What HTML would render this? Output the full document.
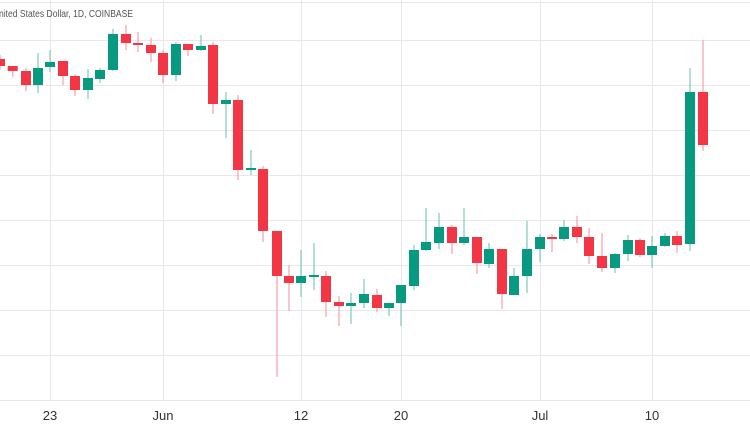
<!DOCTYPE html>
<html><head><meta charset="utf-8"><style>
body{margin:0;background:#fff}
svg{display:block}
text{font-family:"Liberation Sans",sans-serif}
</style></head><body>
<svg width="750" height="430" viewBox="0 0 750 430" xmlns="http://www.w3.org/2000/svg">
<g stroke="#e8e8e8" stroke-width="1">
<line x1="0" y1="2.5" x2="750" y2="2.5"/>
<line x1="0" y1="40.5" x2="750" y2="40.5"/><line x1="0" y1="85.5" x2="750" y2="85.5"/>
<line x1="0" y1="130.5" x2="750" y2="130.5"/><line x1="0" y1="175.5" x2="750" y2="175.5"/>
<line x1="0" y1="220.5" x2="750" y2="220.5"/><line x1="0" y1="265.5" x2="750" y2="265.5"/>
<line x1="0" y1="310.5" x2="750" y2="310.5"/><line x1="0" y1="355.5" x2="750" y2="355.5"/>
<line x1="0" y1="400.5" x2="750" y2="400.5"/>
<line x1="50.5" y1="0" x2="50.5" y2="400"/><line x1="163.5" y1="0" x2="163.5" y2="400"/>
<line x1="301.5" y1="0" x2="301.5" y2="400"/><line x1="401.5" y1="0" x2="401.5" y2="400"/>
<line x1="540.5" y1="0" x2="540.5" y2="400"/><line x1="652.5" y1="0" x2="652.5" y2="400"/>
</g>
<text x="-1" y="17" font-size="10" fill="#555" textLength="134" lengthAdjust="spacingAndGlyphs">nited States Dollar, 1D, COINBASE</text>
<g font-size="13" fill="#333" text-anchor="middle">
<text x="50" y="420">23</text><text x="163" y="420">Jun</text><text x="301" y="420">12</text>
<text x="401" y="420">20</text><text x="540" y="420">Jul</text><text x="652" y="420">10</text>
</g>
<g stroke="#f8a0a8" stroke-width="1.2">
<line x1="0" x2="0" y1="55" y2="70"/><line x1="12.7" x2="12.7" y1="66" y2="77"/>
<line x1="26" x2="26" y1="68" y2="91"/><line x1="63" x2="63" y1="61" y2="85"/>
<line x1="75" x2="75" y1="74" y2="96"/><line x1="126" x2="126" y1="25" y2="50"/>
<line x1="138" x2="138" y1="32" y2="52"/><line x1="151" x2="151" y1="38" y2="62"/>
<line x1="163" x2="163" y1="50" y2="83"/><line x1="188" x2="188" y1="44" y2="56"/>
<line x1="213" x2="213" y1="42" y2="114"/><line x1="238" x2="238" y1="95" y2="180"/>
<line x1="263" x2="263" y1="166" y2="242"/><line x1="277" x2="277" y1="231" y2="377"/>
<line x1="289" x2="289" y1="265" y2="311"/><line x1="326" x2="326" y1="271" y2="317"/>
<line x1="339" x2="339" y1="296" y2="326"/><line x1="377" x2="377" y1="289" y2="312"/>
<line x1="452" x2="452" y1="225" y2="254"/><line x1="477" x2="477" y1="237" y2="274"/>
<line x1="502" x2="502" y1="249" y2="309"/><line x1="552" x2="552" y1="234" y2="252"/>
<line x1="577" x2="577" y1="216" y2="243"/><line x1="589" x2="589" y1="228" y2="264"/>
<line x1="602" x2="602" y1="233" y2="272"/><line x1="640" x2="640" y1="238" y2="257"/>
<line x1="677" x2="677" y1="231" y2="253"/><line x1="703" x2="703" y1="40" y2="151"/>
</g>
<g stroke="#7ccbbd" stroke-width="1.2">
<line x1="38" x2="38" y1="53" y2="93"/><line x1="50" x2="50" y1="50" y2="72"/>
<line x1="88" x2="88" y1="69" y2="99"/><line x1="100" x2="100" y1="68" y2="83"/>
<line x1="113" x2="113" y1="29" y2="71"/><line x1="176" x2="176" y1="42" y2="81"/>
<line x1="201" x2="201" y1="35" y2="51"/><line x1="226" x2="226" y1="92" y2="138"/>
<line x1="251" x2="251" y1="150" y2="175"/><line x1="301" x2="301" y1="250" y2="297"/>
<line x1="314" x2="314" y1="243" y2="290"/><line x1="351" x2="351" y1="293" y2="324"/>
<line x1="364" x2="364" y1="279" y2="308"/><line x1="389" x2="389" y1="303" y2="316"/>
<line x1="401" x2="401" y1="285" y2="326"/><line x1="414" x2="414" y1="245" y2="290"/>
<line x1="426" x2="426" y1="208" y2="251"/><line x1="439" x2="439" y1="213" y2="249"/>
<line x1="464" x2="464" y1="208" y2="245"/><line x1="489" x2="489" y1="243" y2="268"/>
<line x1="514" x2="514" y1="268" y2="295"/><line x1="527" x2="527" y1="221" y2="293"/>
<line x1="540" x2="540" y1="234" y2="262"/><line x1="564" x2="564" y1="220" y2="241"/>
<line x1="615" x2="615" y1="253" y2="273"/><line x1="628" x2="628" y1="235" y2="261"/>
<line x1="652" x2="652" y1="236" y2="268"/><line x1="665" x2="665" y1="233" y2="247"/>
<line x1="690" x2="690" y1="68" y2="251"/>
</g>
<g fill="#f23645">
<rect x="-5" y="59" width="10" height="7"/><rect x="7.7" y="66" width="10" height="5"/>
<rect x="21" y="71" width="10" height="14"/><rect x="58" y="61" width="10" height="15"/>
<rect x="70" y="76" width="10" height="14"/><rect x="121" y="34" width="10" height="9"/>
<rect x="133" y="43" width="10" height="2"/><rect x="146" y="45" width="10" height="8"/>
<rect x="158" y="53" width="10" height="22"/><rect x="183" y="44" width="10" height="6"/>
<rect x="208" y="45" width="10" height="59"/><rect x="233" y="100" width="10" height="70"/>
<rect x="258" y="169" width="10" height="62"/><rect x="272" y="231" width="10" height="45"/>
<rect x="284" y="276" width="10" height="7"/><rect x="321" y="276" width="10" height="26"/>
<rect x="334" y="302" width="10" height="4"/><rect x="372" y="295" width="10" height="13"/>
<rect x="447" y="227" width="10" height="16"/><rect x="472" y="237" width="10" height="26"/>
<rect x="497" y="249" width="10" height="45"/><rect x="547" y="237" width="10" height="2"/>
<rect x="572" y="227" width="10" height="10"/><rect x="584" y="237" width="10" height="19"/>
<rect x="597" y="256" width="10" height="12"/><rect x="635" y="240" width="10" height="15"/>
<rect x="672" y="236" width="10" height="9"/><rect x="698" y="92" width="10" height="53"/>
</g>
<g fill="#089981">
<rect x="33" y="68" width="10" height="17"/><rect x="45" y="62" width="10" height="5"/>
<rect x="83" y="78" width="10" height="12"/><rect x="95" y="70" width="10" height="9"/>
<rect x="108" y="34" width="10" height="36"/><rect x="171" y="44" width="10" height="31"/>
<rect x="196" y="46" width="10" height="4"/><rect x="221" y="100" width="10" height="4"/>
<rect x="246" y="168" width="10" height="2"/><rect x="296" y="276" width="10" height="7"/>
<rect x="309" y="275" width="10" height="2"/><rect x="346" y="303" width="10" height="3"/>
<rect x="359" y="294" width="10" height="9"/><rect x="384" y="303" width="10" height="5"/>
<rect x="396" y="285" width="10" height="18"/><rect x="409" y="250" width="10" height="36"/>
<rect x="421" y="242" width="10" height="8"/><rect x="434" y="227" width="10" height="16"/>
<rect x="459" y="237" width="10" height="6"/><rect x="484" y="249" width="10" height="15"/>
<rect x="509" y="276" width="10" height="19"/><rect x="522" y="249" width="10" height="27"/>
<rect x="535" y="237" width="10" height="12"/><rect x="559" y="227" width="10" height="12"/>
<rect x="610" y="254" width="10" height="14"/><rect x="623" y="240" width="10" height="14"/>
<rect x="647" y="246" width="10" height="9"/><rect x="660" y="236" width="10" height="10"/>
<rect x="685" y="92" width="10" height="152"/>
</g>
</svg>
</body></html>
